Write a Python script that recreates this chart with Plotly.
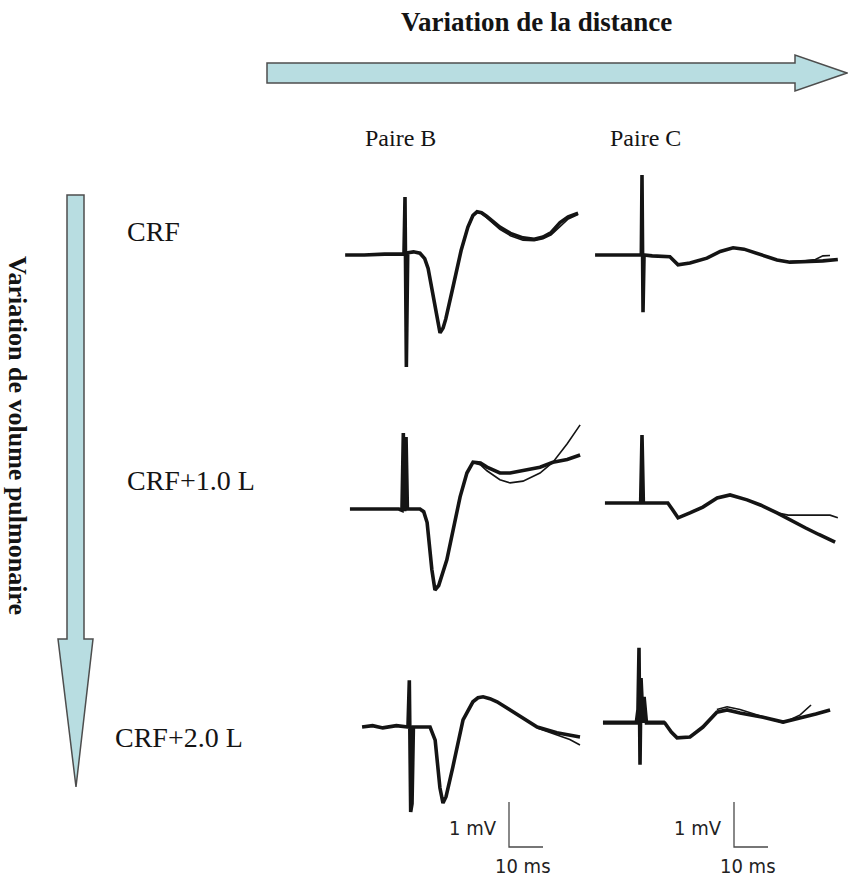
import plotly.graph_objects as go

W, H = 848, 882
PX_PER_MS = 3.4
PX_PER_MV = 45.0

# ---------------- data (time in ms from stimulus, voltage in mV) ----------------
rows = ["CRF", "CRF+1.0 L", "CRF+2.0 L"]
cols = ["Paire B", "Paire C"]

b_crf_t = [-17.6, -12, -6, -1.0, -0.3, 0.0, 0.4, 0.8, 2.5, 4.4, 5.8, 6.8, 8.5, 9.5, 10.3, 11.2, 12.0, 14.0, 16.5, 18.5, 20.0, 21.2, 22.5, 24.0, 27.9, 31.0, 34.7, 38.0, 40.6, 43.0, 45.6, 48.0, 50.9]
b_crf_v = [0, 0, 0.02, 0.02, 0.02, 1.29, -2.49, 0.05, 0.07, 0.04, -0.08, -0.3, -1.0, -1.5, -1.73, -1.62, -1.42, -0.75, 0.1, 0.62, 0.88, 0.96, 0.94, 0.86, 0.62, 0.48, 0.38, 0.35, 0.4, 0.5, 0.72, 0.85, 0.93]
b_crf_t2 = [18.5, 20.0, 21.2, 22.5, 24.0, 27.9, 31.0, 34.7, 38.0, 40.6, 43.0, 45.6, 48.0, 50.9]
b_crf_v2 = [0.6, 0.86, 0.95, 0.92, 0.83, 0.57, 0.43, 0.33, 0.32, 0.36, 0.45, 0.64, 0.8, 0.9]

c_crf_t = [-13.8, -6, -0.8, -0.2, 0.0, 0.3, 0.6, 3, 8.2, 9.5, 10.6, 14.1, 19.1, 23, 26.8, 30, 33.8, 37, 39.7, 43.5, 48, 53.2, 57.6]
c_crf_v = [0, 0, 0, 0, 1.78, -1.27, 0, -0.02, -0.04, -0.14, -0.22, -0.18, -0.07, 0.08, 0.16, 0.13, 0.04, -0.04, -0.11, -0.16, -0.15, -0.13, -0.1]
c_crf_t2 = [43.5, 48, 51, 53.2, 55.3]
c_crf_v2 = [-0.14, -0.13, -0.1, -0.02, -0.01]

b_1l_t = [-15.9, -8, -1.5, -0.6, -0.2, 0.2, 0.6, 1.0, 3, 4.7, 5.8, 6.8, 8.2, 9.1, 10.2, 12.6, 16.5, 18.5, 20.3, 22.5, 24.4, 28.2, 31.2, 35, 40, 43.8, 48, 51.8]
b_1l_v = [0, 0, 0, -0.03, 1.69, -0.05, 1.6, 0, 0, 0, -0.06, -0.3, -1.35, -1.8, -1.7, -1.13, 0.27, 0.8, 1.04, 1.02, 0.93, 0.8, 0.8, 0.85, 0.93, 1.04, 1.1, 1.2]
b_1l_t2 = [20.3, 22.5, 24.4, 28.2, 31.2, 35, 40, 43.8, 48, 51.8]
b_1l_v2 = [1.04, 0.98, 0.85, 0.65, 0.58, 0.62, 0.8, 1.04, 1.45, 1.87]

c_1l_t = [-10.9, -5, -0.4, 0, 0.4, 3, 7.6, 9.0, 10.6, 14.1, 17.9, 22.1, 25.9, 30.9, 35, 39.7, 44, 48, 52, 56.8]
c_1l_v = [0, 0, 0, 1.51, 0, 0, 0, -0.15, -0.33, -0.22, -0.09, 0.11, 0.18, 0.07, -0.05, -0.22, -0.4, -0.55, -0.7, -0.87]
c_1l_t2 = [39.7, 43, 48, 53, 55.3, 57.6]
c_1l_v2 = [-0.22, -0.27, -0.27, -0.27, -0.27, -0.33]

b_2l_t = [-14.1, -11, -8, -4, -0.6, -0.2, 0.2, 0.6, 1.0, 3, 5.9, 7.4, 8.8, 9.7, 10.6, 12.6, 15.6, 18.5, 20.0, 21.5, 23.5, 25.6, 31.5, 37.4, 43.2, 47, 50]
b_2l_v = [0, 0.03, -0.02, 0.03, 0, 1.04, -1.89, -1.7, 0, 0, 0, -0.29, -1.35, -1.69, -1.55, -0.89, 0.16, 0.56, 0.65, 0.67, 0.63, 0.56, 0.27, 0.0, -0.13, -0.18, -0.22]
b_2l_t2 = [37.4, 43.2, 47, 50]
b_2l_v2 = [-0.02, -0.17, -0.28, -0.4]

c_2l_t = [-10.6, -5, -0.8, -0.3, 0, 0.3, 0.6, 1.2, 1.5, 2.2, 5, 7.6, 9.5, 11.2, 15, 18.8, 22.9, 25.9, 29.7, 36.5, 42.4, 47.4, 52, 56.2]
c_2l_v = [0, 0, 0, 0.3, 1.67, -0.93, 1.0, 0.0, 0.58, 0.0, 0, 0, -0.2, -0.33, -0.31, -0.09, 0.24, 0.29, 0.22, 0.13, 0.02, 0.11, 0.2, 0.29]
c_2l_t2 = [-10.6, -5, -0.5, 5, 7.6, None, 22.9, 25.9, 29.7, 36.5, 42.4, 47.4, 50.6]
c_2l_v2 = [0.04, 0.04, 0.04, 0.04, 0.04, None, 0.3, 0.36, 0.3, 0.13, 0.0, 0.18, 0.4]

scale_mv = 1.0
scale_ms = 10.0
scale_labels = ["1 mV", "10 ms"]

# ---------------- layout helpers (pixel placement) ----------------
def PX(x):
    return x / W

def PY(y):
    return 1 - y / H

# panel: data, origin pixel (stimulus x, baseline y)
panels = [
    (b_crf_t, b_crf_v, b_crf_t2, b_crf_v2, (405, 255)),
    (c_crf_t, c_crf_v, c_crf_t2, c_crf_v2, (642, 255)),
    (b_1l_t, b_1l_v, b_1l_t2, b_1l_v2, (404, 509)),
    (c_1l_t, c_1l_v, c_1l_t2, c_1l_v2, (642, 503)),
    (b_2l_t, b_2l_v, b_2l_t2, b_2l_v2, (410, 727)),
    (c_2l_t, c_2l_v, c_2l_t2, c_2l_v2, (639, 723)),
]

fig = go.Figure()
layout_axes = {}
INK = "#141414"

for i, (t, v, t2, v2, (x0, yb)) in enumerate(panels):
    n = i + 1
    xa = "x" if n == 1 else f"x{n}"
    ya = "y" if n == 1 else f"y{n}"
    fig.add_trace(go.Scatter(x=t, y=v, mode="lines", xaxis=xa, yaxis=ya,
                             line=dict(color=INK, width=3.6),
                             hoverinfo="skip", showlegend=False))
    fig.add_trace(go.Scatter(x=t2, y=v2, mode="lines", xaxis=xa, yaxis=ya,
                             line=dict(color=INK, width=1.6), connectgaps=False,
                             hoverinfo="skip", showlegend=False))
    xkey = "xaxis" if n == 1 else f"xaxis{n}"
    ykey = "yaxis" if n == 1 else f"yaxis{n}"
    xr = [(0 - x0) / PX_PER_MS, (W - x0) / PX_PER_MS]
    yr = [-(H - yb) / PX_PER_MV, yb / PX_PER_MV]
    xd = dict(domain=[0, 1], range=xr, visible=False, fixedrange=True, anchor=ya)
    yd = dict(domain=[0, 1], range=yr, visible=False, fixedrange=True, anchor=xa)
    if n > 1:
        xd["overlaying"] = "x"
        yd["overlaying"] = "y"
    layout_axes[xkey] = xd
    layout_axes[ykey] = yd

# scale bars on bottom-row panels
annotations = []
SANS = "DejaVu Sans Condensed, Roboto, sans-serif"
scale_corners = [(5, (509, 847)), (6, (734, 847))]
for n, (cx, cy) in scale_corners:
    _, _, _, _, (x0, yb) = panels[n - 1]
    ta = (cx - x0) / PX_PER_MS
    va = (yb - cy) / PX_PER_MV
    xa = f"x{n}"
    ya = f"y{n}"
    fig.add_trace(go.Scatter(x=[ta, ta, ta + scale_ms], y=[va + scale_mv, va, va],
                             mode="lines", xaxis=xa, yaxis=ya,
                             line=dict(color="#4a4a4a", width=1.3),
                             hoverinfo="skip", showlegend=False))
    annotations.append(dict(x=ta - 3.0, y=va + 0.42, xref=xa, yref=ya, text=scale_labels[0],
                            showarrow=False, xanchor="right", yanchor="middle",
                            font=dict(family=SANS, size=20, color="#222")))
    annotations.append(dict(x=ta + 4.2, y=va - 0.42, xref=xa, yref=ya, text=scale_labels[1],
                            showarrow=False, xanchor="center", yanchor="middle",
                            font=dict(family=SANS, size=20, color="#222")))

SERIF = "Liberation Serif, Times New Roman, serif"

# titles
annotations.append(dict(x=PX(536), y=PY(22), xref="paper", yref="paper", text="<b>Variation de la distance</b>",
                        showarrow=False, xanchor="center", yanchor="middle",
                        font=dict(family=SERIF, size=27, color=INK)))
annotations.append(dict(x=PX(18), y=PY(435), xref="paper", yref="paper", text="<b>Variation de volume pulmonaire</b>",
                        showarrow=False, xanchor="center", yanchor="middle", textangle=90,
                        font=dict(family=SERIF, size=26, color=INK)))
for label, cx in zip(cols, [400, 645]):
    annotations.append(dict(x=PX(cx), y=PY(138), xref="paper", yref="paper", text=label,
                            showarrow=False, xanchor="center", yanchor="middle",
                            font=dict(family=SERIF, size=24, color=INK)))
for label, (lx, ly) in zip(rows, [(125, 232), (125, 480), (113, 737)]):
    annotations.append(dict(x=PX(lx), y=PY(ly), xref="paper", yref="paper", text=label,
                            showarrow=False, xanchor="left", yanchor="middle",
                            font=dict(family=SERIF, size=28, color=INK)))

# block arrows
def poly(pts):
    return "M " + " L ".join(f"{PX(x):.5f},{PY(y):.5f}" for x, y in pts) + " Z"

h_arrow = [(267, 63), (795, 63), (795, 55), (847, 73), (795, 91), (795, 83), (267, 83)]
v_arrow = [(67, 195), (84, 195), (84, 639), (93, 639), (76, 787), (58, 639), (67, 639)]
shapes = [
    dict(type="path", path=poly(h_arrow), xref="paper", yref="paper",
         fillcolor="#b8dde1", line=dict(color="#4d4d4d", width=1.5)),
    dict(type="path", path=poly(v_arrow), xref="paper", yref="paper",
         fillcolor="#b8dde1", line=dict(color="#4d4d4d", width=1.5)),
]

fig.update_layout(
    width=W, height=H,
    margin=dict(l=0, r=0, t=0, b=0),
    paper_bgcolor="white", plot_bgcolor="rgba(0,0,0,0)",
    showlegend=False,
    annotations=annotations,
    shapes=shapes,
    **layout_axes,
)

fig.write_html("out.html", config={"displayModeBar": False},
               post_script="document.body.style.margin='0px';")
